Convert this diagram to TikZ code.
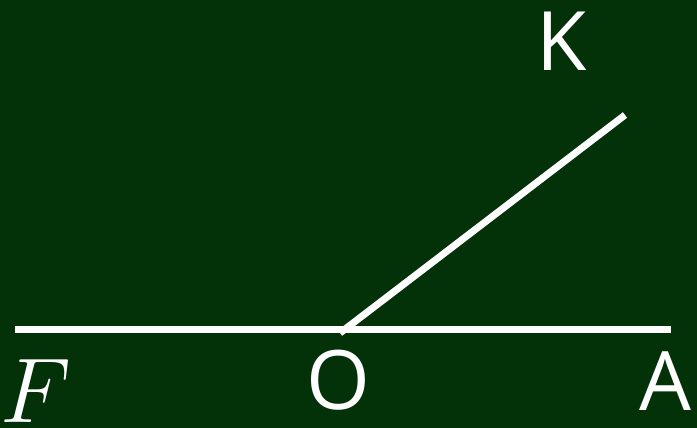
\RequirePackage{fix-cm}
\documentclass[tikz,border=0pt]{standalone}
\usepackage{fontspec}
\setmainfont{Open Sans}
\definecolor{board}{RGB}{3,50,9}
\tikzset{
  ray/.style={white,line width=7pt},
  lbl/.style={white,inner sep=0pt,anchor=base,font=\fontsize{82}{100}\selectfont},
}
\begin{document}
\begin{tikzpicture}[x=1pt,y=-1pt]
  \fill[board] (0,0) rectangle (697,428);
  \useasboundingbox (0,0) rectangle (697,428);
  % the points
  \coordinate (F) at (15,329);
  \coordinate (O) at (340,329);
  \coordinate (A) at (671,329);
  \coordinate (K) at (625,115);
  \draw[ray] (F) -- (A);
  \draw[ray] ([yshift=-4]O) -- (K);
  % labels
  \node[lbl] (labK) at (562,71) {K};
  \node[lbl] (labO) at (338,409) {O};
  \node[lbl] (labA) at (665,410) {A};
  \node[lbl,font=\fontsize{92}{100}\selectfont] (labF) at (36,422) {$F$};
\end{tikzpicture}
\end{document}
